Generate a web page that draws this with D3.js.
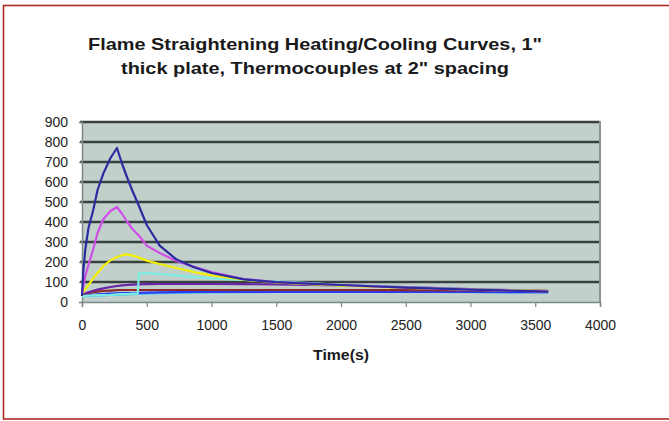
<!DOCTYPE html>
<html><head><meta charset="utf-8">
<script src="https://cdn.jsdelivr.net/npm/d3@7"></script>
<style>html,body{margin:0;padding:0;background:#fff;}svg{display:block;}</style>
</head><body>
<svg id="c" width="669" height="421"></svg>
<script>
const titleLines = ["Flame Straightening Heating/Cooling Curves, 1\"", "thick plate, Thermocouples at 2\" spacing"];
const xLabel = "Time(s)";
const xTicks = [0, 500, 1000, 1500, 2000, 2500, 3000, 3500, 4000];
const yTicks = [0, 100, 200, 300, 400, 500, 600, 700, 800, 900];
const times   = [0, 10, 25, 50, 87, 120, 165, 220, 270, 310, 350, 390, 430, 440, 500, 600, 730, 860, 1000, 1250, 1500, 1750, 2000, 2500, 3000, 3600];
const skyBlue = [28, 28, 29, 30, 31, 32, 33, 35, 36, 37, 38, 39, 40, 40, 42, 44, 46, 47, 48, 49, 50, 50, 50, 50, 49, 48];
const blue    = [30, 31, 32, 34, 36, 38, 40, 42, 43, 44, 45, 45, 46, 46, 47, 48, 49, 50, 50, 51, 51, 51, 51, 50, 50, 49];
const maroon  = [35, 37, 40, 44, 49, 52, 55, 57, 59, 60, 60, 60, 60, 60, 60, 60, 60, 60, 60, 60, 60, 60, 60, 59, 58, 56];
const purple  = [35, 38, 42, 48, 56, 62, 68, 75, 80, 83, 85, 87, 88, 88, 89, 90, 90, 90, 90, 89, 88, 86, 83, 74, 64, 55];
const cyan    = [30, 30, 31, 32, 33, 34, 35, 36, 38, 39, 40, 42, 43, 143, 145, 140, 133, 125, 118, 110, 103, 95, 86, 73, 63, 53];
const yellow  = [40, 50, 62, 85, 118, 145, 180, 208, 225, 234, 238, 232, 225, 222, 207, 190, 170, 150, 133, 112, 98, 89, 82, 71, 62, 54];
const magenta = [40, 80, 130, 185, 265, 345, 415, 455, 475, 440, 400, 365, 338, 332, 282, 245, 205, 177, 150, 115, 100, 92, 85, 72, 62, 52];
const navy    = [30, 150, 260, 370, 460, 560, 643, 720, 770, 690, 620, 555, 495, 480, 385, 282, 212, 175, 145, 113, 99, 92, 85, 72, 62, 52];

const seriesList = [
  {values: skyBlue, color: "#4cc4f0"},
  {values: blue, color: "#2a3cf0"},
  {values: maroon, color: "#8c2a2a"},
  {values: purple, color: "#6a22a6"},
  {values: cyan, color: "#7cefe2"},
  {values: yellow, color: "#f2f000"},
  {values: magenta, color: "#d04ee8"},
  {values: navy, color: "#2c2ca0"}
];

const FONT = "Liberation Sans, Arial, sans-serif";
const svg = d3.select("#c");
svg.append("rect").attr("x", 3.5).attr("y", 5.5).attr("width", 680).attr("height", 413.5)
  .attr("fill", "#fff").attr("stroke", "#b02a26").attr("stroke-width", 1.6);

const L = 82, R = 600, T = 122, B = 302;
const x = d3.scaleLinear().domain([0, 4000]).range([L, R]);
const y = d3.scaleLinear().domain([0, 900]).range([B, T]);

svg.append("rect").attr("x", L).attr("y", T).attr("width", R - L).attr("height", B - T)
  .attr("fill", "#c2d0cc");

// gridlines
svg.append("g").selectAll("line").data(yTicks.filter(d => d > 0)).join("line")
  .attr("x1", L - 2).attr("x2", R).attr("y1", d => y(d)).attr("y2", d => y(d))
  .attr("stroke", "#384040").attr("stroke-width", 2.4);

// plot right border
svg.append("line").attr("x1", R).attr("x2", R).attr("y1", T - 1).attr("y2", B)
  .attr("stroke", "#8a9492").attr("stroke-width", 2);

// axes
const xAxis = d3.axisBottom(x).tickValues(xTicks).tickSize(5).tickPadding(13).tickFormat(d3.format("d"));
const gx = svg.append("g").attr("transform", `translate(0,${B})`).call(xAxis);
const yAxis = d3.axisLeft(y).tickValues(yTicks).tickSize(3).tickPadding(11).tickFormat(d3.format("d"));
const gy = svg.append("g").attr("transform", `translate(${L},0)`).call(yAxis);
[gx, gy].forEach(g => {
  g.select(".domain").attr("stroke", "#7c8886").attr("stroke-width", 1.5);
  g.selectAll(".tick line").attr("stroke", "#7c8886").attr("stroke-width", 1.2);
  g.selectAll(".tick text").attr("fill", "#222").style("font-family", FONT).style("font-size", "14px");
});

// lines
const line = d3.line().x((d, i) => x(times[i])).y(d => y(d));
svg.append("g").selectAll("path").data(seriesList).join("path")
  .attr("d", s => line(s.values)).attr("fill", "none")
  .attr("stroke", s => s.color).attr("stroke-width", 2.2).attr("stroke-linejoin", "round");

// title
const titleLens = [454, 388];
svg.append("g").selectAll("text").data(titleLines).join("text")
  .attr("x", 315).attr("y", (d, i) => 50 + i * 24).attr("text-anchor", "middle")
  .attr("textLength", (d, i) => titleLens[i]).attr("lengthAdjust", "spacingAndGlyphs")
  .style("font-family", FONT).style("font-weight", "bold")
  .style("font-size", "17px").attr("fill", "#1a1a1a").text(d => d);

svg.append("text").attr("x", 341).attr("y", 360).attr("text-anchor", "middle")
  .attr("textLength", 56).attr("lengthAdjust", "spacingAndGlyphs")
  .style("font-family", FONT).style("font-weight", "bold")
  .style("font-size", "14px").attr("fill", "#1a1a1a").text(xLabel);
</script>
</body></html>
